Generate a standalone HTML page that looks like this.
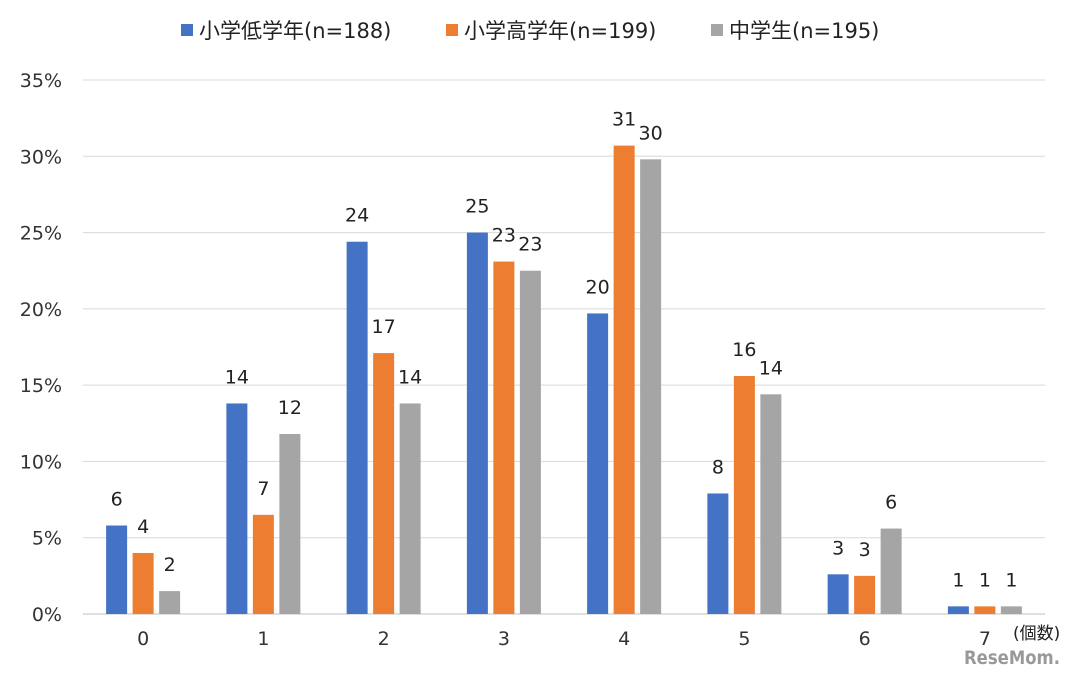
<!DOCTYPE html>
<html><head><meta charset="utf-8"><style>
html,body{margin:0;padding:0;background:#fff;width:1074px;height:674px;overflow:hidden}
text{font-family:"DejaVu Sans","Noto Sans CJK JP",sans-serif}
</style></head><body>
<svg id="chart" width="1074" height="674" xmlns="http://www.w3.org/2000/svg">
<g id="grid"></g>
<g id="ylab"></g>
<g id="bars"></g>
<g id="xlab"></g>
<g>
<rect x="181" y="24" width="12" height="12" fill="#4472C4"/>
<text x="199" y="38" font-size="21" fill="#222">小学低学年(n=188)</text>
<rect x="446" y="24" width="12" height="12" fill="#ED7D31"/>
<text x="464" y="38" font-size="21" fill="#222">小学高学年(n=199)</text>
<rect x="711" y="24" width="12" height="12" fill="#A5A5A5"/>
<text x="729" y="38" font-size="21" fill="#222">中学生(n=195)</text>
</g>
<text x="1013" y="639" font-size="17" fill="#222">(個数)</text>
<text x="964" y="664" font-size="19" font-weight="bold" fill="#888" opacity="0.85" textLength="96" lengthAdjust="spacingAndGlyphs">ReseMom.</text>
</svg>
<script>
const categories=["0","1","2","3","4","5","6","7"];
const seriesLow=[5.8,13.8,24.4,25.0,19.7,7.9,2.6,0.5];
const seriesHigh=[4.0,6.5,17.1,23.1,30.7,15.6,2.5,0.5];
const seriesJhs=[1.5,11.8,13.8,22.5,29.8,14.4,5.6,0.5];
const labelsLow=["6","14","24","25","20","8","3","1"];
const labelsHigh=["4","7","17","23","31","16","3","1"];
const labelsJhs=["2","12","14","23","30","14","6","1"];
const yTicks=[0,5,10,15,20,25,30,35];
const NS="http://www.w3.org/2000/svg";
const x0=83,x1=1045,y0=614,yTop=80,yMax=35;
const y=v=>y0-(v/yMax)*(y0-yTop);
const bw=(x1-x0)/categories.length;
const cx=i=>x0+bw*(i+0.5);
function mk(tag,attrs,parent){const e=document.createElementNS(NS,tag);for(const k in attrs)e.setAttribute(k,attrs[k]);parent.appendChild(e);return e;}
const grid=document.getElementById('grid'),yl=document.getElementById('ylab'),bars=document.getElementById('bars'),xl=document.getElementById('xlab');
yTicks.forEach(t=>{
 const l=mk('line',{x1:x0,x2:x1,y1:y(t),y2:y(t),stroke:t===0?'#bfbfbf':'#d9d9d9','stroke-width':1},grid);
 
 
 const tx=mk('text',{x:62,y:y(t)+7,'font-size':19,'text-anchor':'end',fill:'#333'},yl);
 tx.textContent=t+'%';
 
 
});
const series=[[seriesLow,labelsLow,'#4472C4',-26.5,'low'],[seriesHigh,labelsHigh,'#ED7D31',0,'high'],[seriesJhs,labelsJhs,'#A5A5A5',26.5,'jhs']];
categories.forEach((c,i)=>{
 const t=mk('text',{x:cx(i),y:y0+31,'font-size':19,'text-anchor':'middle',fill:'#333'},xl);
 t.textContent=c;
 
 
 series.forEach(([vals,labs,col,off,nm])=>{
  const v=vals[i],bx=cx(i)+off-10.5;
  const r=mk('rect',{x:bx,y:y(v),width:21,height:y0-y(v),fill:col},bars);
  
  
  const lt=mk('text',{x:bx+10.5,y:y(v)-20,'font-size':19,'text-anchor':'middle',fill:'#222'},bars);
  lt.textContent=labs[i];
  
  
 });
});
</script>
</body></html>
